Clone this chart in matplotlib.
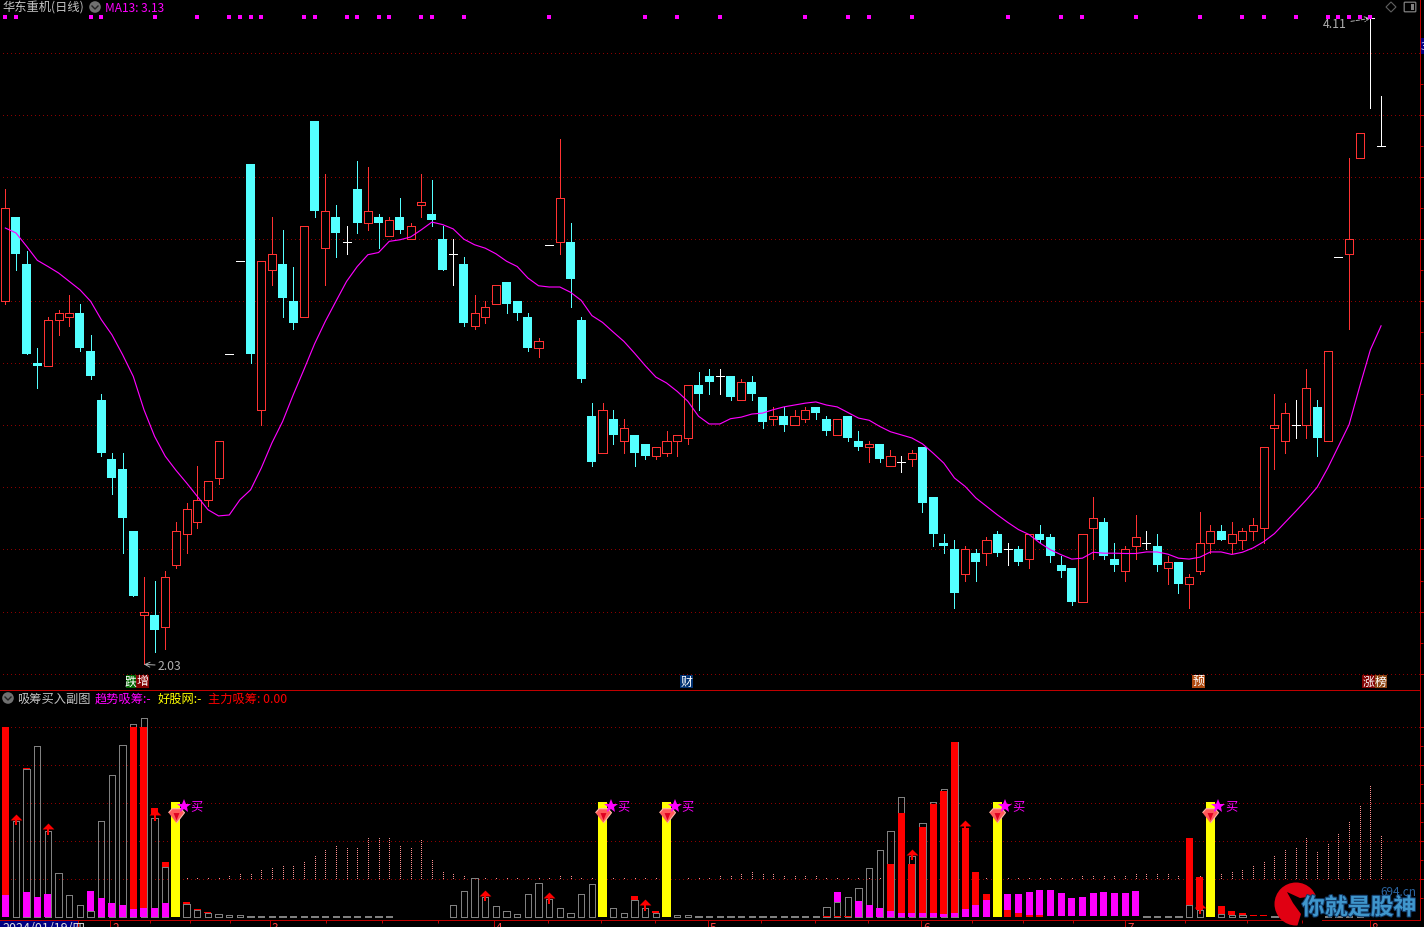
#!/usr/bin/env python3
# -*- coding: utf-8 -*-
import numpy as np
import matplotlib
matplotlib.use('Agg')
import matplotlib.pyplot as plt
from matplotlib.patches import Rectangle, Circle, Polygon, FancyBboxPatch
import matplotlib.patheffects as pe

plt.rcParams['font.family'] = ['Noto Sans CJK SC', 'DejaVu Sans']

opens = [3.20,3.47,3.32,3.00,2.99,3.14,3.15,3.16,3.04,2.88,2.69,2.66,2.46,2.19,2.19,2.15,2.35,2.45,2.49,2.56,
         2.63,3.03,3.33,3.64,2.85,3.30,3.32,3.20,3.15,3.78,3.37,3.47,3.39,3.56,3.45,3.47,3.41,3.47,3.40,3.51,
         3.48,3.40,3.35,3.32,3.12,3.15,3.19,3.26,3.20,3.15,3.05,3.38,3.39,3.39,3.14,2.83,2.71,2.82,2.75,2.77,
         2.74,2.70,2.71,2.75,2.76,2.93,2.96,2.96,2.96,2.88,2.94,2.89,2.82,2.83,2.80,2.82,2.86,2.82,2.77,2.83,
         2.75,2.73,2.74,2.67,2.68,2.69,2.73,2.57,2.42,2.40,2.32,2.39,2.39,2.45,2.40,2.40,2.37,2.45,2.44,2.35,
         2.34,2.23,2.47,2.49,2.37,2.33,2.41,2.42,2.41,2.34,2.36,2.29,2.33,2.42,2.46,2.42,2.43,2.46,2.47,2.79,
         2.75,2.80,2.80,2.86,2.75,3.34,3.35,3.66,4.11,3.70]
highs = [3.56,3.47,3.36,3.05,3.15,3.17,3.22,3.19,3.09,2.90,2.71,2.71,2.46,2.31,2.30,2.33,2.49,2.55,2.67,2.62,
         2.75,3.03,3.33,3.64,3.33,3.47,3.43,3.31,3.44,3.78,3.61,3.51,3.44,3.65,3.63,3.48,3.47,3.53,3.45,3.61,
         3.59,3.44,3.40,3.34,3.22,3.20,3.25,3.26,3.20,3.16,3.08,3.38,3.72,3.45,3.15,2.87,2.87,2.85,2.82,2.77,
         2.74,2.73,2.78,2.77,2.93,2.97,2.98,2.98,2.96,2.95,2.96,2.89,2.86,2.86,2.85,2.86,2.86,2.83,2.82,2.83,
         2.78,2.75,2.74,2.72,2.70,2.72,2.73,2.57,2.45,2.43,2.41,2.40,2.44,2.46,2.42,2.41,2.45,2.48,2.45,2.38,
         2.34,2.45,2.57,2.50,2.42,2.41,2.51,2.46,2.45,2.38,2.36,2.32,2.52,2.48,2.48,2.49,2.47,2.50,2.73,2.90,
         2.87,2.88,2.98,2.88,3.04,3.34,3.66,3.74,4.11,3.86]
lows = [3.19,3.30,3.03,2.92,2.99,3.09,3.12,3.04,2.95,2.70,2.58,2.39,2.25,2.03,2.07,2.08,2.34,2.39,2.47,2.54,
        2.61,3.03,3.33,3.00,2.80,3.25,3.15,3.11,3.15,3.47,3.25,3.34,3.35,3.42,3.43,3.37,3.41,3.42,3.40,3.47,
        3.44,3.30,3.25,3.12,3.11,3.13,3.19,3.16,3.14,3.04,3.02,3.38,3.35,3.18,2.94,2.67,2.71,2.74,2.71,2.67,
        2.69,2.69,2.70,2.70,2.74,2.85,2.90,2.90,2.88,2.88,2.88,2.79,2.80,2.78,2.80,2.81,2.82,2.77,2.77,2.75,
        2.72,2.68,2.68,2.67,2.65,2.67,2.52,2.41,2.39,2.21,2.30,2.30,2.35,2.38,2.35,2.35,2.34,2.42,2.36,2.31,
        2.22,2.23,2.37,2.37,2.33,2.30,2.37,2.40,2.33,2.29,2.26,2.21,2.32,2.39,2.43,2.39,2.40,2.43,2.42,2.66,
        2.71,2.76,2.76,2.70,2.75,3.34,3.11,3.66,3.82,3.70]
closes = [3.50,3.35,3.03,2.99,3.14,3.16,3.16,3.05,2.96,2.71,2.63,2.50,2.25,2.20,2.14,2.31,2.46,2.53,2.56,2.62,
          2.75,3.03,3.33,3.03,3.33,3.35,3.21,3.13,3.44,3.49,3.49,3.42,3.39,3.45,3.49,3.45,3.46,3.43,3.44,3.52,
          3.46,3.30,3.35,3.13,3.16,3.18,3.25,3.19,3.16,3.05,3.07,3.38,3.53,3.27,2.95,2.68,2.85,2.77,2.79,2.71,
          2.70,2.73,2.75,2.77,2.93,2.90,2.94,2.96,2.89,2.94,2.90,2.81,2.83,2.80,2.83,2.85,2.84,2.78,2.82,2.76,
          2.73,2.74,2.69,2.70,2.68,2.71,2.55,2.45,2.41,2.26,2.40,2.36,2.43,2.39,2.40,2.36,2.45,2.43,2.38,2.33,
          2.23,2.45,2.50,2.38,2.35,2.40,2.44,2.42,2.35,2.36,2.29,2.31,2.42,2.46,2.43,2.45,2.46,2.48,2.73,2.80,
          2.84,2.80,2.92,2.76,3.04,3.34,3.40,3.74,4.11,3.70]
ma13 = [3.435,3.419,3.376,3.331,3.311,3.29,3.263,3.236,3.199,3.14,3.091,3.027,2.957,2.85,2.764,2.70,2.655,2.614,2.571,2.528,
        2.508,2.511,2.56,2.592,2.662,2.743,2.812,2.898,2.979,3.062,3.134,3.199,3.263,3.311,3.349,3.356,3.392,3.397,3.406,3.429,
        3.454,3.446,3.432,3.399,3.381,3.37,3.352,3.328,3.311,3.274,3.249,3.245,3.245,3.228,3.202,3.153,3.131,3.10,3.07,3.032,
        2.992,2.955,2.936,2.909,2.877,2.829,2.804,2.804,2.821,2.826,2.836,2.839,2.85,2.859,2.865,2.871,2.875,2.865,2.859,2.841,
        2.823,2.816,2.796,2.779,2.769,2.759,2.74,2.71,2.678,2.63,2.603,2.566,2.539,2.512,2.487,2.464,2.448,2.421,2.399,2.383,
        2.369,2.372,2.391,2.388,2.388,2.387,2.387,2.392,2.392,2.385,2.372,2.369,2.375,2.392,2.392,2.384,2.391,2.405,2.425,2.451,
        2.487,2.523,2.56,2.60,2.662,2.732,2.802,2.925,3.043,3.12]

dot_idx = [0,1,8,9,14,18,21,22,23,24,28,29,32,33,35,36,39,40,43,51,60,63,67,75,79,81,85,94,99,101,106,112,116,118,121,124,125,126,127,128]
dot_level = 4.115

# lower panel, units where one grid step is 100
gray_top = [0,251,389,448,225,114,56,30,14,251,374,451,506,522,261,130,0,33,18,9,
            6,4,4,1,1,1,1,1,1,1,1,1,1,1,1,1,1,0,0,0,
            0,0,30,67,101,51,27,14,6,59,88,46,22,11,59,85,0,22,11,43,
            22,11,0,4,4,1,1,1,1,1,1,1,1,1,1,1,1,25,38,51,
            75,127,175,225,314,159,246,301,336,461,0,0,0,0,0,0,0,0,0,0,
            0,0,0,0,0,0,0,1,1,1,1,32,17,0,6,4,4,0,0,1,
            1,1,1,1,1,1,1,1,0,0]
red_idx = [0,2,12,13,14,15,17,18,19,59,61,77,78,79,83,84,85,86,87,88,89,90,91,92,94,95,96,97,111,112,114,115,116,117,118]
red_low = [0,389,0,0,270,130,33,18,9,43,11,0,0,0,0,0,0,0,0,0,0,0,0,44,0,0,0,0,32,17,6,4,4,1,1]
red_high = [498,391,498,498,286,144,38,20,12,54,14,1,1,1,139,273,139,236,296,332,459,233,118,60,17,10,4,4,207,105,28,15,10,4,4]
mag_idx = [0,2,3,4,8,9,10,11,12,13,14,15,78,80,81,82,83,84,85,86,87,88,89,90,91,92,94,95,96,97,98,99,100,101,102,103,104,105,106]
mag_low = [0,0,0,0,14,0,0,0,0,0,0,0,38,0,0,0,0,0,0,0,0,0,0,0,0,0,17,10,4,4,1,1,1,1,1,1,1,1,1]
mag_high = [57,64,53,60,68,49,36,31,20,22,23,36,64,41,32,22,15,10,10,10,10,6,10,20,31,44,60,60,65,70,70,62,49,52,62,65,62,62,68]
buy_idx = [16,56,62,93,113]
buy_top = 302
stem_top = [103,103,103,103,103,103,103,103,103,103,103,0,0,0,0,0,0,104,104,104,
            108,112,117,117,125,134,138,139,149,165,182,189,183,186,209,209,209,190,183,207,
            154,122,115,110,107,107,107,107,104,104,104,104,110,110,107,104,0,104,104,104,
            104,104,0,102,104,104,107,110,112,118,121,118,115,112,112,110,110,107,107,104,
            104,104,104,0,0,0,0,0,0,0,0,0,104,0,104,104,104,104,107,107,
            107,110,112,112,112,112,115,118,115,115,112,112,112,0,115,120,128,136,149,162,
            181,186,210,175,196,223,254,294,346,215]
arrow_idx = [1,4,14,45,51,60,85,90,112]
arrow_tip = [270,244,281,70,64,44,178,253,38]
grid_main = [2.0,2.2,2.4,2.6,2.8,3.0,3.2,3.4,3.6,3.8,4.0]
grid_sub = [100,200,300,400,500]
month_ticks = [110,270,494,708,921,1125,1370]
month_labels = ['2','3','4','5','6','7','8']
small_ticks = [150,190,230,326,382,438,548,601,655,761,815,868,972,1023,1073,1185,1247,1302]

W, H = 1424, 928
RED, CYAN = '#ff3232', '#54ffff'
GRID = '#8c0000'
AXIS = '#c00000'
PX = 0.72
DOT = (0, (1, 3))

fig = plt.figure(figsize=(W / 100, H / 100), dpi=100, facecolor='black')


def panel(top, bottom):
    return fig.add_axes([0, 1 - bottom / H, 1420 / W, (bottom - top) / H], facecolor='black')


ax = panel(0, 690)
ax2 = panel(691, 921)
ov = fig.add_axes([0, 0, 1, 1], facecolor='none')
ov.set_xlim(0, W)
ov.set_ylim(H, 0)
ov.axis('off')

o, h, l, c = map(np.array, (opens, highs, lows, closes))
x = np.arange(len(c))
up = c > o
down = c < o
flat = c == o

# --- main panel ---
ax.hlines(grid_main, -1, 140, color=GRID, lw=PX, linestyles=[DOT], zorder=0, antialiased=False)
ax.vlines(x[up], c[up], h[up], color=RED, lw=PX, antialiased=False, zorder=2)
ax.vlines(x[up], l[up], o[up], color=RED, lw=PX, antialiased=False, zorder=2)
ax.bar(x[up], (c - o)[up], bottom=o[up], width=0.76, facecolor='black', edgecolor=RED,
       linewidth=PX, antialiased=False, zorder=3)
ax.vlines(x[down], l[down], h[down], color=CYAN, lw=PX, antialiased=False, zorder=2)
ax.bar(x[down], (o - c)[down], bottom=c[down], width=0.84, color=CYAN, linewidth=0,
       antialiased=False, zorder=3)
ax.vlines(x[flat], l[flat], h[flat], color='white', lw=PX, antialiased=False, zorder=3)
ax.hlines(c[flat], x[flat] - 0.38, x[flat] + 0.38, color='white', lw=PX, antialiased=False, zorder=3)
ax.plot(x, ma13, color='#ff00ff', lw=PX * 1.15, zorder=4)
ax.plot(dot_idx, [dot_level] * len(dot_idx), 's', color='#ff00ff', ms=2.3, mew=0, zorder=5)

ax.annotate('2.03', xy=(13, 2.03), xytext=(10, -1), textcoords='offset points', color='#b0b0b0',
            fontsize=8.8, va='center', arrowprops=dict(arrowstyle='->', color='#b0b0b0', lw=0.7, shrinkA=0, shrinkB=0))
ax.annotate('4.11', xy=(128, 4.11), xytext=(-17, -4), textcoords='offset points', color='#b0b0b0',
            fontsize=8.8, va='center', ha='right',
            arrowprops=dict(arrowstyle='->', color='#b0b0b0', lw=0.7, ls='--', shrinkA=1, shrinkB=0))

ax.set_xlim(-0.497, 132.65)
ax.set_ylim(2 - 15.3 / 310.6, 2 + 674.7 / 310.6)

# --- lower panel ---
ax2.hlines(grid_sub, -1, 140, color=GRID, lw=PX, linestyles=[DOT], zorder=0, antialiased=False)
stems = np.array(stem_top)
sx = x[stems > 0]
ax2.vlines(sx, 101, stems[stems > 0], color='#ff9090', lw=PX, linestyles=[(0, (1, 2))], antialiased=False, zorder=1)
gray = np.array(gray_top)
ax2.bar(x[gray > 0], gray[gray > 0], width=0.6, facecolor='none', edgecolor='#808080',
        linewidth=PX, antialiased=False, zorder=2)
ax2.bar(red_idx, np.array(red_high) - np.array(red_low), bottom=red_low, width=0.66, color='#ff0000',
        linewidth=0, antialiased=False, zorder=3)
ax2.bar(mag_idx, np.array(mag_high) - np.array(mag_low), bottom=mag_low, width=0.66, color='#ff00ff',
        linewidth=0, antialiased=False, zorder=4)
ax2.bar(buy_idx, [buy_top] * len(buy_idx), width=0.84, color='#ffff00', linewidth=0, antialiased=False, zorder=5)

# up arrows
tips = np.array(arrow_tip)
ax2.vlines(arrow_idx, tips - 30, tips - 8, color='#ff0000', lw=PX * 2, zorder=6, antialiased=False)
ax2.plot(arrow_idx, tips - 6.5, ls='none', marker=[(-1, -0.5), (0, 0.5), (1, -0.5)], ms=8.5,
         color='#ff0000', mew=0, zorder=7)

# gem, star and text on each buy bar
buys = np.array(buy_idx)
gem = [(-1, 0.35), (-0.55, 0.85), (0.55, 0.85), (1, 0.35), (0, -0.95)]
ax2.plot(buys, [268] * len(buys), ls='none', marker=gem, ms=11.5, mfc='#ff5a5a', mec='#ffb8a8', mew=0.8, zorder=8)
ax2.plot(buys, [268] * len(buys), ls='none', marker=[(-0.6, 0.5), (0.6, 0.5), (0, -1)], ms=7, color='#e00020', mew=0, zorder=9)
ax2.plot(buys + 0.75, [292] * len(buys), ls='none', marker='*', ms=10.5, color='#ff00ff', mew=0, zorder=10)
for b in buy_idx:
    ax2.text(b + 1.95, 291, '买', color='#ff00ff', fontsize=8.8, ha='center', va='center', zorder=10)

ax2.set_xlim(-0.497, 132.65)
ax2.set_ylim(-8.7, 596.6)

for a in (ax, ax2):
    a.set_xticks([])
    a.yaxis.tick_right()
    a.tick_params(axis='y', which='both', colors=AXIS, labelright=False, width=PX)
    a.tick_params(axis='y', which='major', length=3)
    a.tick_params(axis='y', which='minor', length=2)
    a.spines['left'].set_visible(False)
    for s in ('top', 'bottom', 'right'):
        a.spines[s].set_color(AXIS)
        a.spines[s].set_linewidth(PX)
ax.spines['top'].set_visible(False)
ax.spines['bottom'].set_visible(False)
ax.set_yticks(grid_main)
ax.set_yticks(np.array(grid_main[:-1]) + 0.1, minor=True)
ax2.set_yticks(grid_sub)
ax2.set_yticks(np.array(grid_sub) - 50, minor=True)

# --- header texts ---
TXT = '#c4c4c4'
FS = 8.8


def chevron(cx, cy):
    ov.add_patch(Circle((cx, cy), 5.8, color='#707070', lw=0))
    ov.plot([cx - 3, cx, cx + 3], [cy - 1, cy + 2, cy - 1], color='#222222', lw=1)


ov.text(2, 8, '华东重机(日线)', color=TXT, fontsize=FS, va='center')
chevron(95, 8)
ov.text(105, 8, 'MA13: 3.13', color='#ff00ff', fontsize=8.6, va='center')
chevron(8, 699)
ov.text(17, 699, '吸筹买入副图', color=TXT, fontsize=FS, va='center')
ov.text(95, 699, '趋势吸筹:-', color='#ff00ff', fontsize=FS, va='center')
ov.text(158, 699, '好股网:-', color='#ffff00', fontsize=FS, va='center')
ov.text(208, 699, '主力吸筹: 0.00', color='#ff0000', fontsize=FS, va='center')

# top right icons and clipped price box
ov.add_patch(Polygon([(1391, 3), (1396, 8), (1391, 13), (1386, 8)], closed=True, fill=False, ec='#606060', lw=0.8))
ov.add_patch(FancyBboxPatch((1405, 4), 10, 8, boxstyle='round,pad=0.8', fill=False, ec='#808080', lw=0.9))
ov.add_patch(Rectangle((1411, 5), 3, 6, color='#808080', lw=0))
ov.add_patch(Rectangle((1421, 39), 3, 16, color='#000080', lw=0))
ov.text(1420.5, 47, '3', color='#d0d0ff', fontsize=8, va='center', clip_on=True)

# event tags


def tag(x0, x1, txt, col):
    ov.add_patch(Rectangle((x0, 676), x1 - x0, 13, color=col, lw=0))
    ov.text((x0 + x1) / 2, 682, txt, color='white', fontsize=8.6, ha='center', va='center')


tag(126, 136, '跌', '#006400')
tag(136, 149, '增', '#800000')
tag(680, 693, '财', '#003070')
tag(1192, 1205, '预', '#b04a10')
tag(1362, 1375, '涨', '#800000')
tag(1375, 1387, '榜', '#8b4513')

# --- time axis, cut off by the picture edge ---
ov.add_patch(Rectangle((0, 922), 78, 7, color='#000080', lw=0))
ov.vlines(78, 921, 928, color=AXIS, lw=PX)
ov.text(2, 922, '2024/01/19/四', color='#e0e0e0', fontsize=9, va='top')
ov.vlines(month_ticks, 921, 928, color=AXIS, lw=PX)
ov.vlines(small_ticks, 921, 924, color=AXIS, lw=PX)
for t, lab in zip(month_ticks, month_labels):
    ov.text(t + 2, 922, lab, color='#ff4040', fontsize=8.5, va='top')

# --- watermark ---
ov.add_patch(Circle((1296, 905), 21.5, color='#e00012', lw=0))
ov.add_patch(Polygon([(1287, 893), (1300, 899), (1322, 896), (1322, 928), (1297, 928), (1301, 915), (1293, 904)],
                     closed=True, color='black', lw=0))
ov.text(1359, 909, '你就是股神', color='#3f96cc', fontsize=16.5, fontweight='bold', ha='center', va='center',
        path_effects=[pe.withStroke(linewidth=1.5, foreground='#123a66')])
ov.text(1398, 893, '694.cn', color='#2a64a0', fontsize=8.5, ha='center', va='center')

fig.savefig('out.png', dpi=100, facecolor='black')
